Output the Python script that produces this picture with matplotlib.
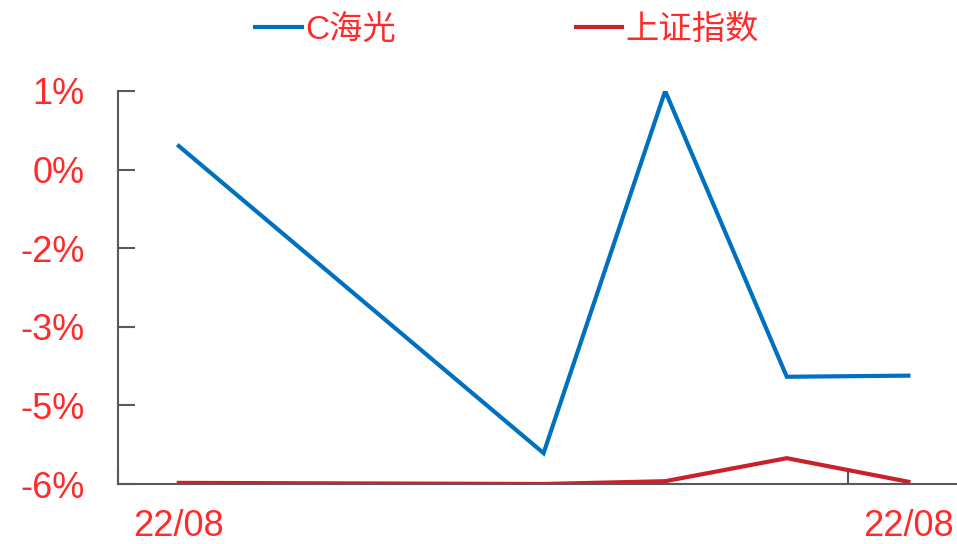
import matplotlib
matplotlib.use("Agg")
import matplotlib.pyplot as plt
import matplotlib.dates as mdates
from matplotlib.ticker import FixedLocator, FuncFormatter, NullFormatter
import pandas as pd

plt.rcParams['font.family'] = ['Liberation Sans', 'Noto Sans CJK SC', 'DejaVu Sans']

# data (percent change)
dates = ["2022-08-19", "2022-08-22", "2022-08-23", "2022-08-24", "2022-08-25"]
c_haiguang = [0.02, -5.45, 1.0, -4.09, -4.07]
shanghai = [-5.98, -6.0, -5.95, -5.54, -5.96]
series_names = ["C海光", "上证指数"]
y_ticks = [1.0, -0.4, -1.8, -3.2, -4.6, -6.0]
x_labels = ["22/08", "22/08"]

txt_color = "#FF2A2A"
axis_color = "#595959"

x = pd.to_datetime(dates)
xn = mdates.date2num(x)

fig = plt.figure(figsize=(9.57, 5.44), dpi=100)
ax = fig.add_axes([118 / 957, 60 / 544, 1 - 118 / 957, 393 / 544])

ax.plot(xn, c_haiguang, color="#0070C0", lw=3, label=series_names[0], solid_joinstyle="miter")
ax.plot(xn, shanghai, color="#C9202A", lw=3, label=series_names[1], solid_joinstyle="miter")

ax.set_ylim(-6, 1)
ax.set_xlim(xn[0] - 0.5, xn[-1] + 0.4)

ax.yaxis.set_major_locator(FixedLocator(y_ticks))
ax.yaxis.set_major_formatter(FuncFormatter(lambda v, p: "%d%%" % round(v) if round(v) != 0 else "0%"))

# tick marks between dates, labels on the first/last date
ax.xaxis.set_major_locator(FixedLocator([xn[0] - 0.5, xn[-1] - 0.5]))
ax.xaxis.set_major_formatter(NullFormatter())
ax.xaxis.set_minor_locator(FixedLocator([xn[0], xn[-1]]))
ax.xaxis.set_minor_formatter(FuncFormatter(lambda v, p: x_labels[p]))

ax.tick_params(axis="y", direction="in", length=12, width=1.5, color=axis_color,
               labelsize=26, labelcolor=txt_color, pad=24)
ax.tick_params(axis="x", which="major", direction="in", length=11, width=1.5, color=axis_color)
ax.tick_params(axis="x", which="minor", length=0, labelsize=26, labelcolor=txt_color, pad=18)

for s in ["top", "right"]:
    ax.spines[s].set_visible(False)
for s in ["left", "bottom"]:
    ax.spines[s].set_color(axis_color)
    ax.spines[s].set_linewidth(1.5)

fig.legend(loc="center", bbox_to_anchor=(507 / 957, 1 - 30 / 544), ncol=2, frameon=False,
           fontsize=24, labelcolor=txt_color, handlelength=1.4, handletextpad=0.08,
           columnspacing=5.4)

fig.savefig("out.png", dpi=100)
